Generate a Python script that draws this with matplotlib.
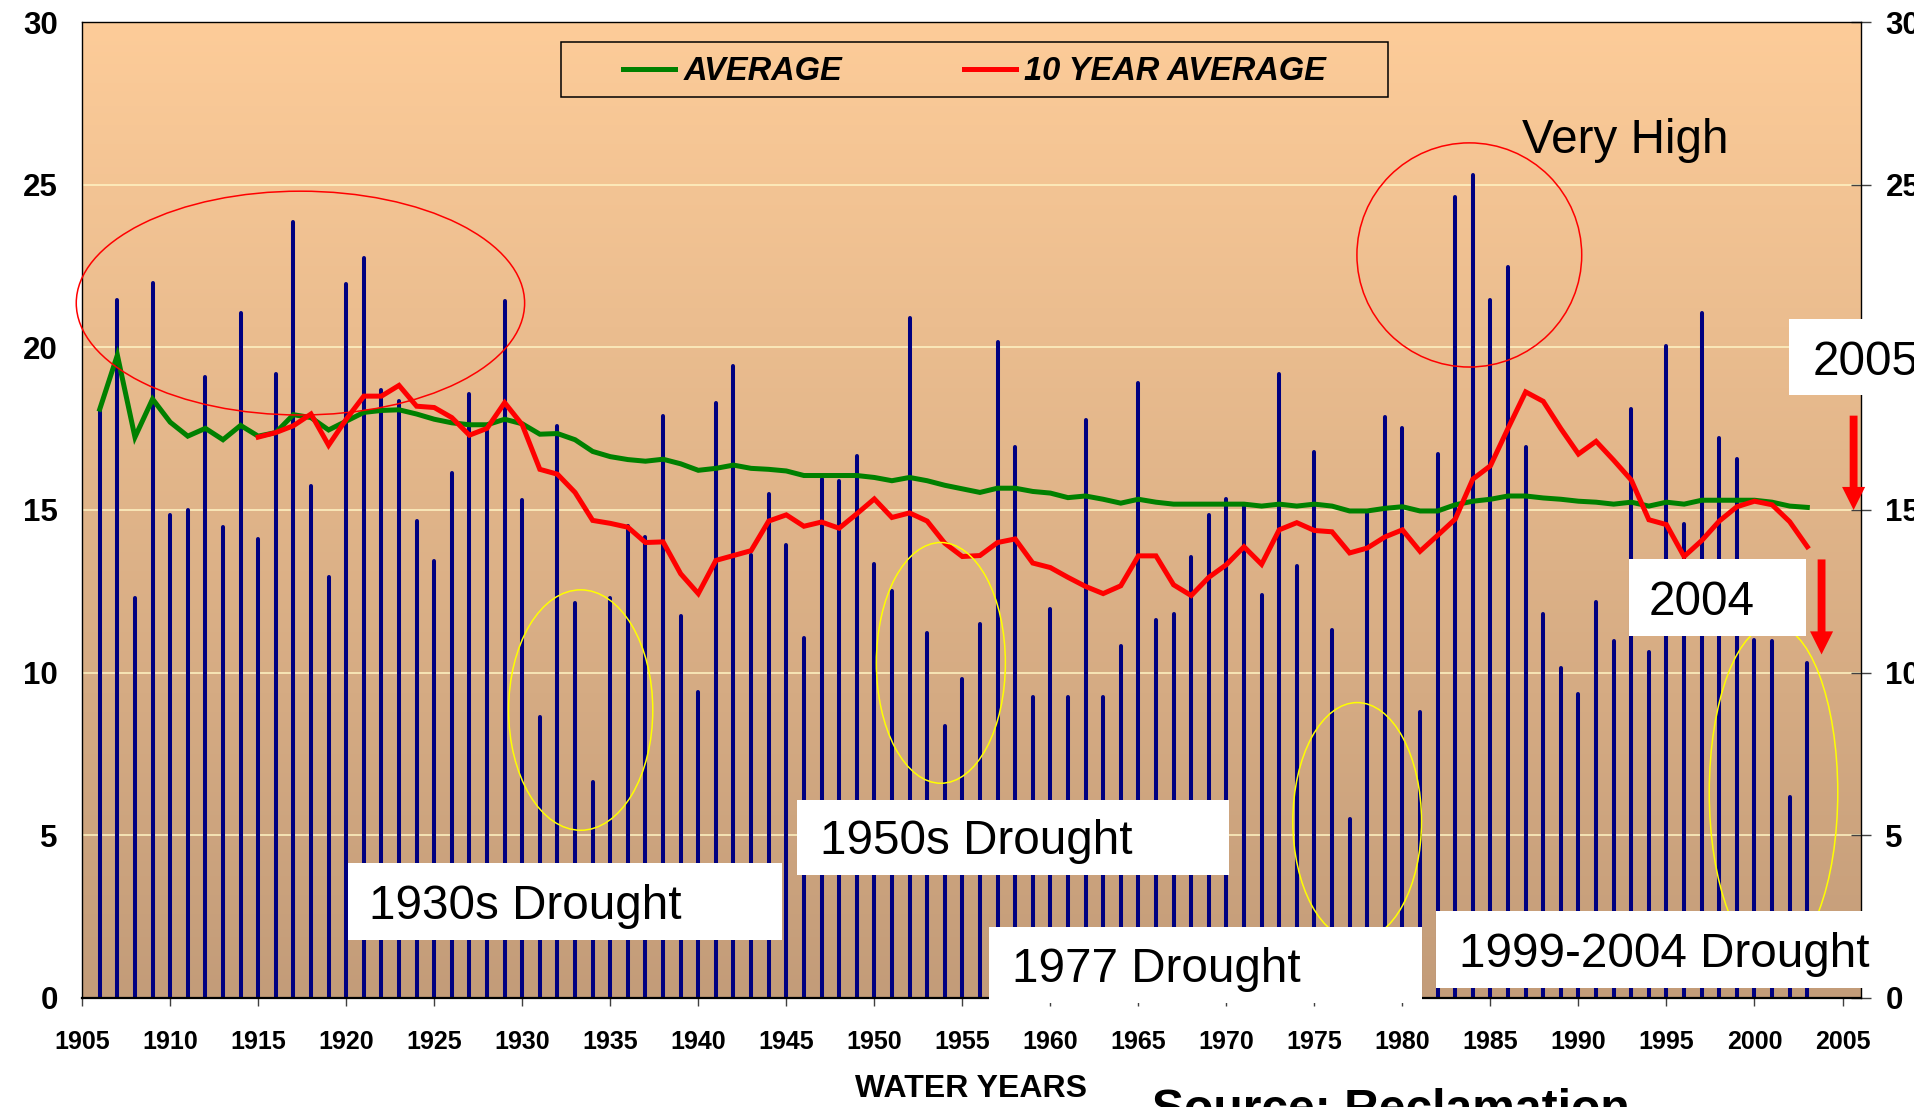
import numpy as np
import matplotlib
matplotlib.use("Agg")
import matplotlib.pyplot as plt
from matplotlib.patches import Ellipse, Rectangle

plt.rcParams['font.family'] = ['Liberation Sans', 'DejaVu Sans']

# natural flow per water year (million acre-feet)
years = np.arange(1906, 2004)
flow = [18.10, 21.44, 12.31, 21.99, 14.86, 14.99, 19.09, 14.47, 21.05, 14.11,   # 1906-1915
        19.19, 23.86, 15.74, 12.95, 21.94, 22.74, 18.70, 18.35, 14.65, 13.43,   # 1916-1925
        16.14, 18.56, 17.57, 21.41, 15.30, 8.65, 17.57, 12.15, 6.65, 12.31,     # 1926-1935
        14.50, 14.17, 17.90, 11.73, 9.40, 18.30, 19.43, 13.63, 15.49, 13.93,    # 1936-1945
        11.07, 15.95, 15.89, 16.67, 13.34, 12.50, 20.91, 11.23, 8.35, 9.79,     # 1946-1955
        11.50, 20.17, 16.93, 9.24, 11.96, 9.24, 17.77, 9.24, 10.82, 18.91,      # 1956-1965
        11.61, 11.80, 13.54, 14.86, 15.35, 15.12, 12.40, 19.19, 13.28, 16.77,   # 1966-1975
        11.32, 5.51, 14.97, 17.87, 17.51, 8.80, 16.72, 24.61, 25.30, 21.44,     # 1976-1985
        22.48, 16.93, 11.79, 10.14, 9.34, 12.18, 10.96, 18.10, 10.65, 20.04,    # 1986-1995
        14.57, 21.06, 17.22, 16.58, 11.00, 10.96, 6.19, 10.29]                  # 1996-2003

average = [18.10, 19.76, 17.24, 18.41, 17.70, 17.27, 17.51, 17.16, 17.60, 17.27,
           17.38, 17.93, 17.84, 17.46, 17.73, 18.00, 18.06, 18.08, 17.95, 17.79,
           17.68, 17.62, 17.62, 17.79, 17.65, 17.33, 17.35, 17.16, 16.80, 16.64,
           16.55, 16.50, 16.56, 16.42, 16.22, 16.28, 16.38, 16.28, 16.25, 16.20,
           16.06, 16.06, 16.06, 16.06, 16.00, 15.90, 16.00, 15.90, 15.76, 15.65,
           15.54, 15.67, 15.67, 15.57, 15.52, 15.38, 15.43, 15.33, 15.21, 15.33,
           15.24, 15.18, 15.18, 15.18, 15.18, 15.18, 15.12, 15.18, 15.12, 15.18,
           15.12, 14.97, 14.97, 15.05, 15.10, 14.97, 14.97, 15.16, 15.27, 15.33,
           15.43, 15.43, 15.37, 15.33, 15.27, 15.24, 15.18, 15.24, 15.12, 15.24,
           15.18, 15.30, 15.30, 15.30, 15.30, 15.24, 15.12, 15.08]

ten_years = np.arange(1915, 2004)
ten_avg = [17.24, 17.38, 17.59, 17.95, 16.99, 17.79, 18.50, 18.50, 18.83, 18.19,
           18.15, 17.84, 17.30, 17.51, 18.30, 17.62, 16.25, 16.10, 15.54, 14.68,
           14.59, 14.47, 14.00, 14.02, 13.04, 12.43, 13.45, 13.60, 13.75, 14.66,
           14.85, 14.50, 14.63, 14.44, 14.88, 15.34, 14.77, 14.91, 14.66, 13.98,
           13.57, 13.60, 14.00, 14.11, 13.37, 13.23, 12.93, 12.65, 12.43, 12.67,
           13.59, 13.59, 12.70, 12.37, 12.93, 13.32, 13.87, 13.33, 14.39, 14.61,
           14.37, 14.33, 13.68, 13.83, 14.17, 14.39, 13.73, 14.22, 14.72, 15.95,
           16.36, 17.51, 18.63, 18.34, 17.50, 16.72, 17.11, 16.53, 15.92, 14.70,
           14.55, 13.57, 14.06, 14.66, 15.10, 15.27, 15.16, 14.64, 13.87]

xticks = list(range(1905, 2006, 5))
yticks = [0, 5, 10, 15, 20, 25, 30]

# annotations: (label, box x0, box x1, box y0, box y1, text x, text baseline y)
boxes = [("1930s Drought", 1920.08, 1944.74, 1.79, 4.15, 1921.3, 2.43),
         ("1950s Drought", 1945.61, 1970.17, 3.77, 6.10, 1946.9, 4.43),
         ("1977 Drought", 1956.52, 1981.12, -0.15, 2.18, 1957.8, 0.49),
         ("1999-2004 Drought", 1981.93, 2006.75, 0.32, 2.68, 1983.2, 0.94),
         ("2004", 1992.89, 2002.91, 11.12, 13.48, 1994.0, 11.76),
         ("2005", 2001.96, 2012.0, 18.52, 20.88, 2003.3, 19.16)]
# (center x, center y, width, height, colour)
rings = [(1917.4, 21.36, 25.47, 6.88, '#FF0000'),
         (1983.8, 22.84, 12.77, 6.89, '#FF0000'),
         (1933.32, 8.85, 8.19, 7.39, '#FFFF00'),
         (1953.78, 10.30, 7.33, 7.40, '#FFFF00'),
         (1977.43, 5.43, 7.31, 7.30, '#FFFF00'),
         (2001.08, 6.32, 7.30, 10.30, '#FFFF00')]
# (x, tail y, tip y)
arrows = [(2005.63, 17.9, 15.0), (2003.81, 13.48, 10.56)]

fig = plt.figure(figsize=(19.15, 11.07), dpi=100)
ax = fig.add_axes([0.0429, 0.0985, 0.9289, 0.8816])
xmin, xmax = 1905, 2006.05
ax.set_xlim(xmin, xmax)
ax.set_ylim(0, 30)

# peach-to-tan background gradient
top_c = np.array([253, 204, 153]) / 255
bot_c = np.array([195, 156, 121]) / 255
t = np.linspace(0, 1, 256)[:, None, None]
grad = top_c * (1 - t) + bot_c * t
ax.imshow(grad, extent=(xmin, xmax, 0, 30), aspect='auto', zorder=0, origin='upper')

ax.set_axisbelow(True)
ax.yaxis.grid(True, color='#FFF4C4', lw=1.1)

ax.vlines(years, 0, flow, color='#000080', lw=2.9, zorder=2, capstyle='round')
ax.plot(years, average, color='#008000', lw=3.6, zorder=3, label='AVERAGE',
        solid_joinstyle='miter')
ax.plot(ten_years, ten_avg, color='#FF0000', lw=3.6, zorder=3, label='10 YEAR AVERAGE',
        solid_joinstyle='miter')

for cx, cy, w, h, c in rings:
    ax.add_patch(Ellipse((cx, cy), w, h, fill=False, edgecolor=c, lw=1.1,
                         zorder=4, clip_on=False))

for label, x0, x1, y0, y1, tx, ty in boxes:
    ax.add_patch(Rectangle((x0, y0), x1 - x0, y1 - y0, facecolor='white',
                           edgecolor='none', zorder=5, clip_on=False))
    ax.text(tx, ty, label, fontsize=34.3, va='baseline', ha='left', zorder=6,
            clip_on=False)

ax.text(1986.77, 25.96, "Very High", fontsize=34.3, va='baseline', ha='left', zorder=6)

for x, y0, y1 in arrows:
    ax.annotate("", xy=(x, y1), xytext=(x, y0), zorder=6, annotation_clip=False,
                arrowprops=dict(arrowstyle="simple,head_length=1,head_width=1,tail_width=0.34",
                                color='#FF0000', mutation_scale=16.6,
                                shrinkA=0, shrinkB=0, lw=0))

# legend inside a framed box
ax.add_patch(Rectangle((0.2692, 0.9231), 0.4649, 0.0566, transform=ax.transAxes,
                       fill=False, edgecolor='black', lw=1.1, zorder=6))
leg = ax.legend(loc='center', bbox_to_anchor=(0.5017, 0.9490), ncol=2, frameon=False,
                handlelength=1.6, handletextpad=0.25, columnspacing=3.74,
                prop=dict(size=23.5, weight='bold', style='italic'))
leg.set_zorder(7)

ax.set_xticks(xticks)
ax.set_yticks(yticks)
ax.tick_params(axis='x', direction='out', length=6, width=1, color='#404040', pad=17,
               labelsize=18)
ax.tick_params(axis='y', direction='inout', length=14.4, width=1, color='#404040', pad=10.4,
               left=False, right=True, labelleft=True, labelright=True, labelsize=22.5)
for lab in ax.get_xticklabels() + ax.get_yticklabels():
    lab.set_fontweight('bold')
for s in ax.spines.values():
    s.set_color('black')
    s.set_linewidth(1.0)
ax.spines['bottom'].set_linewidth(1.6)

fig.text(971.5 / 1915, 1 - 1074 / 1107, "WATER YEARS", fontsize=23, fontweight='bold',
         ha='center', va='top')
fig.text(1152 / 1915, 1 - 1088 / 1107, "Source: Reclamation", fontsize=34.6,
         fontweight='bold', ha='left', va='top')

fig.savefig('out.png', dpi=100)
